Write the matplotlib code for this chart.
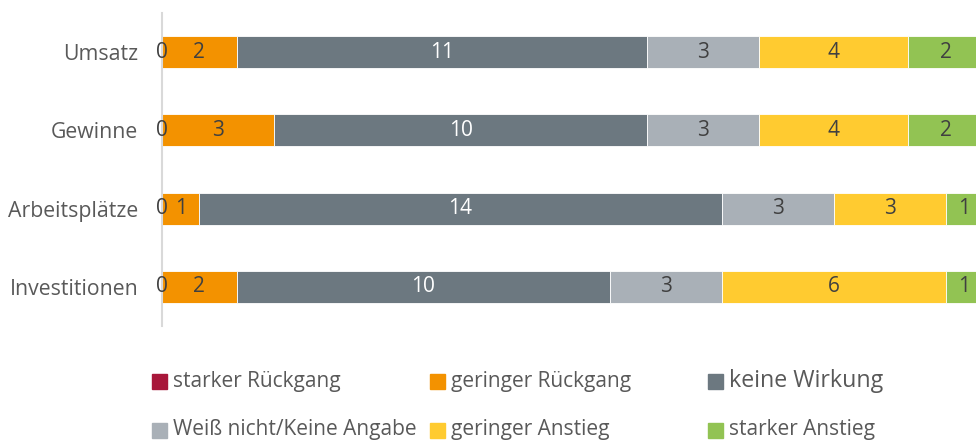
import matplotlib.pyplot as plt
from matplotlib.patches import Rectangle

# Categories from top to bottom
categories = ["Umsatz", "Gewinne", "Arbeitsplätze", "Investitionen"]

series_names = [
    "starker Rückgang",
    "geringer Rückgang",
    "keine Wirkung",
    "Weiß nicht/Keine Angabe",
    "geringer Anstieg",
    "starker Anstieg",
]
starker_rueckgang = [0, 0, 0, 0]
geringer_rueckgang = [2, 3, 1, 2]
keine_wirkung = [11, 10, 14, 10]
weiss_nicht = [3, 3, 3, 3]
geringer_anstieg = [4, 4, 3, 6]
starker_anstieg = [2, 2, 1, 1]

values = [starker_rueckgang, geringer_rueckgang, keine_wirkung,
          weiss_nicht, geringer_anstieg, starker_anstieg]
colors = ["#A8173A", "#F39200", "#6C7880", "#A9B0B7", "#FFCB30", "#92C353"]
label_colors = ["#404040", "#404040", "white", "#404040", "#404040", "#404040"]

plt.rcParams["font.family"] = ["Open Sans", "DejaVu Sans"]
TEXT = "#595959"
W, H = 976, 441

fig = plt.figure(figsize=(W / 100, H / 100), dpi=100)
ax = fig.add_axes([162 / W, 1 - 326 / H, 821 / W, 313 / H])

y = list(range(len(categories)))
left = [0] * len(categories)
for vals, col, lc in zip(values, colors, label_colors):
    bars = ax.barh(y, vals, left=left, height=0.41, color=col,
                   edgecolor="white", linewidth=0.6)
    ax.bar_label(bars, labels=[str(v) for v in vals], label_type="center",
                 color=lc, fontsize=15)
    left = [a + b for a, b in zip(left, vals)]

ax.set_xlim(0, 22)
ax.set_ylim(len(categories) - 0.5, -0.5)
ax.set_yticks(y)
ax.set_yticklabels(categories, fontsize=15.3, color=TEXT)
ax.tick_params(axis="y", length=0, pad=17)
ax.set_xticks([])
for side in ["top", "right", "bottom"]:
    ax.spines[side].set_visible(False)
ax.spines["left"].set_color("#D9D9D9")
ax.spines["left"].set_linewidth(1.5)

# legend laid out by hand: (series index, marker left px, row centre px)
legend_slots = [(0, 152, 381), (1, 430, 381), (2, 708, 381),
                (3, 152, 430), (4, 430, 430), (5, 708, 430)]
box = 15
for idx, px, py in legend_slots:
    fig.patches.append(Rectangle((px / W, 1 - (py + box / 2) / H), box / W, box / H,
                                 transform=fig.transFigure, color=colors[idx]))
    size = 16.7 if series_names[idx] == "keine Wirkung" else 15
    fig.text((px + box + 6) / W, 1 - py / H, series_names[idx], fontsize=size,
             color=TEXT, va="center", ha="left")

fig.savefig("out.png", dpi=100)
